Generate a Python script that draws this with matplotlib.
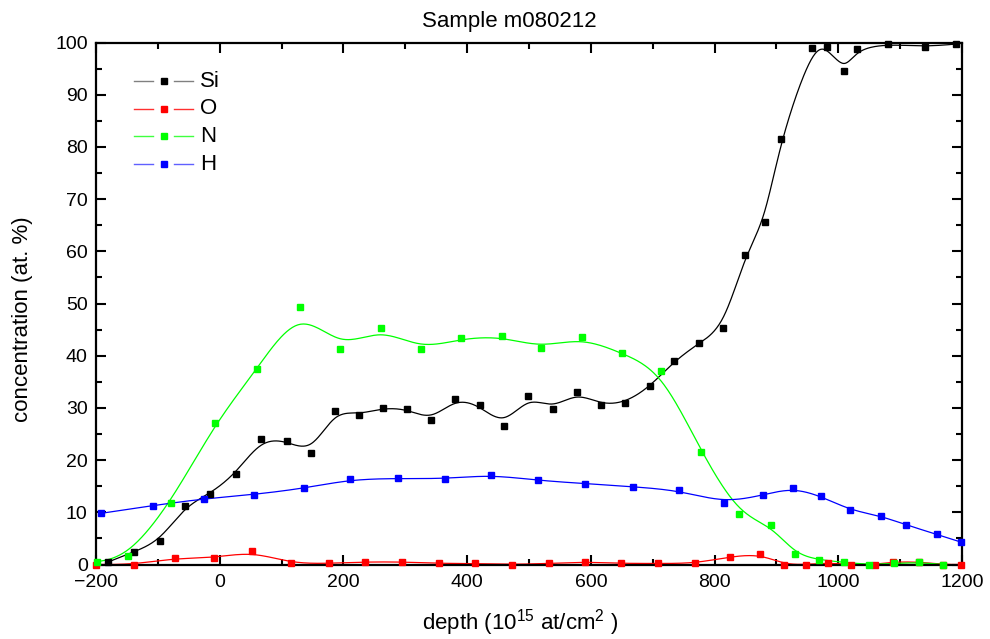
import numpy as np
import matplotlib
matplotlib.use("Agg")
import matplotlib.pyplot as plt

plt.rcParams['font.family'] = ['Liberation Sans', 'DejaVu Sans']
plt.rcParams['mathtext.default'] = 'regular'

# ---------------- data ----------------
si_x = [-180, -139, -97, -56, -15, 26, 67, 108, 148, 186, 225, 264, 303, 342, 381, 420,
        459, 499, 538, 577, 617, 656, 696, 735, 775, 814, 849, 881, 907, 958, 982, 1010,
        1030, 1080, 1140, 1190]
si_y = [0.5, 2.4, 4.5, 11.2, 13.6, 17.4, 24.0, 23.7, 21.4, 29.5, 28.7, 30.0, 29.8, 27.6,
        31.8, 30.5, 26.5, 32.3, 29.8, 33.0, 30.6, 31.0, 34.1, 39.0, 42.4, 45.4, 59.2, 65.7,
        81.6, 99.0, 99.1, 94.5, 98.8, 99.7, 99.2, 99.7]

o_x = [-200, -139, -73, -10, 53, 116, 176, 235, 295, 354, 413, 473, 532, 591, 649, 709,
       768, 825, 873, 913, 948, 984, 1020, 1060, 1089, 1130, 1170, 1199]
o_y = [0.0, 0.0, 1.2, 1.25, 2.5, 0.2, 0.2, 0.5, 0.5, 0.2, 0.2, 0.0, 0.2, 0.5, 0.2, 0.2,
       0.2, 1.5, 2.0, 0.0, 0.0, 0.3, 0.0, 0.0, 0.5, 0.5, 0.0, 0.0]

n_x = [-199, -148, -79, -7, 61, 129, 195, 260, 325, 390, 456, 519, 585, 650, 714, 778,
       839, 891, 930, 969, 1010, 1049, 1090, 1130, 1170]
n_y = [0.5, 1.6, 11.8, 27.2, 37.5, 49.3, 41.2, 45.4, 41.2, 43.3, 43.7, 41.5, 43.5, 40.5,
       37.1, 21.6, 9.6, 7.5, 2.0, 0.9, 0.4, 0.0, 0.2, 0.4, 0.0]

h_x = [-192, -108, -26, 56, 137, 211, 288, 365, 438, 514, 591, 668, 743, 815, 878, 926,
       972, 1019, 1069, 1109, 1159, 1198]
h_y = [9.8, 11.3, 12.6, 13.4, 14.6, 16.3, 16.5, 16.4, 17.2, 16.1, 15.5, 14.9, 14.2, 11.8,
       13.3, 14.7, 13.1, 10.4, 9.3, 7.6, 5.8, 4.3]

series = [("Si", si_x, si_y, "black", "#808080"),
          ("O", o_x, o_y, "#ff0000", "#ff3030"),
          ("N", n_x, n_y, "#00ff00", "#40ff40"),
          ("H", h_x, h_y, "#0000ff", "#6060ff")]


def bspline(xs, ys, n=30):
    """Clamped uniform cubic B-spline using the data points as control points."""
    px = np.concatenate([[xs[0]] * 2, xs, [xs[-1]] * 2]).astype(float)
    py = np.concatenate([[ys[0]] * 2, ys, [ys[-1]] * 2]).astype(float)
    t = np.linspace(0, 1, n, endpoint=False)
    b0 = (1 - t) ** 3 / 6
    b1 = (3 * t ** 3 - 6 * t ** 2 + 4) / 6
    b2 = (-3 * t ** 3 + 3 * t ** 2 + 3 * t + 1) / 6
    b3 = t ** 3 / 6
    cx, cy = [], []
    for i in range(len(px) - 3):
        cx.append(b0 * px[i] + b1 * px[i + 1] + b2 * px[i + 2] + b3 * px[i + 3])
        cy.append(b0 * py[i] + b1 * py[i + 1] + b2 * py[i + 2] + b3 * py[i + 3])
    cx.append([px[-1]])
    cy.append([py[-1]])
    return np.concatenate(cx), np.concatenate(cy)


fig = plt.figure(figsize=(9.9, 6.39), dpi=100)
ax = fig.add_axes([96 / 990, 1 - 564.5 / 639, 866 / 990, 522 / 639])

for name, xs, ys, col, lcol in series:
    cx, cy = bspline(np.array(xs), np.array(ys))
    ax.plot(cx, cy, color=col, lw=0.9, zorder=2)
    ax.plot(xs, ys, ls='none', marker='s', ms=4.9, color=col, mec=col, zorder=3,
            clip_on=False)

ax.set_xlim(-200, 1200)
ax.set_ylim(0, 100)
ax.set_xticks(np.arange(-200, 1201, 200))
ax.set_xticks(np.arange(-200, 1201, 100), minor=True)
ax.set_yticks(np.arange(0, 101, 10))
ax.set_yticks(np.arange(0, 101, 5), minor=True)
ax.tick_params(which='both', direction='in', top=True, right=True, width=1.5,
               labelsize=14)
ax.tick_params(which='major', length=7)
ax.tick_params(which='minor', length=4)
ax.tick_params(axis='x', pad=7)
ax.tick_params(axis='y', pad=6)
for s in ax.spines.values():
    s.set_linewidth(1.6)

ax.set_xlabel("depth (10$^{15}$ at/cm$^{2}$ )", fontsize=16)
ax.xaxis.set_label_coords((520 - 96) / 866, -(623 - 564.5) / 522)
ax.set_ylabel("concentration (at. %)", fontsize=16)
ax.yaxis.set_label_coords(-(96 - 23) / 866, (564.5 - 319) / 522)
ax.xaxis.label.set_va('center')
ax.yaxis.label.set_va('center')
fig.text(509 / 990, 1 - 21 / 639, "Sample m080212", ha='center', va='center', fontsize=16)

# legend drawn in axes coordinates
rows = [0.926, 0.873, 0.820, 0.767]
for (name, xs, ys, col, lcol), yr in zip(series, rows):
    ax.plot([0.0442, 0.0661], [yr, yr], color=lcol, lw=1.0, transform=ax.transAxes)
    ax.plot([0.0901, 0.1117], [yr, yr], color=lcol, lw=1.0, transform=ax.transAxes)
    ax.plot([0.0785], [yr], marker='s', ms=4.9, color=col, transform=ax.transAxes)
    ax.text(0.1205, yr, name, transform=ax.transAxes, fontsize=16, va='center', ha='left')

fig.savefig("out.png", dpi=100)
